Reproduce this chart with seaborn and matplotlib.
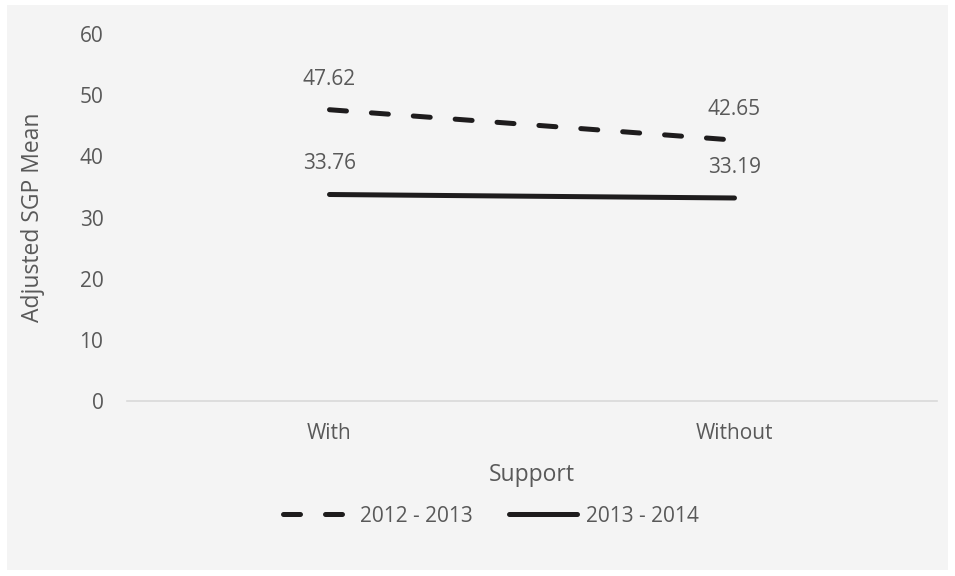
import matplotlib
matplotlib.use("Agg")
import matplotlib.pyplot as plt
import matplotlib.patches as mpatches
import pandas as pd
import seaborn as sns

# Data
supports = ["With", "Without"]
years = ["2012 - 2013", "2013 - 2014"]
mean_2012_2013 = [47.62, 42.65]
mean_2013_2014 = [33.76, 33.19]
y_ticks = [0, 10, 20, 30, 40, 50, 60]

df = pd.DataFrame({
    "Support": supports * 2,
    "Mean": mean_2012_2013 + mean_2013_2014,
    "Year": [years[0]] * 2 + [years[1]] * 2,
})

sns.set_theme(style="white")
plt.rcParams["font.family"] = ["Open Sans", "DejaVu Sans"]

TXT = "#595959"
LINE = "#1e1c1d"

fig = plt.figure(figsize=(9.55, 5.76), dpi=100, facecolor="white")
# panel background, kept behind the axes
fig.patches.append(mpatches.Rectangle((7 / 955, 6 / 576), 941 / 955, 565 / 576,
                                      transform=fig.transFigure, facecolor="#f4f4f4",
                                      edgecolor="none", zorder=-10))

ax = fig.add_axes([127 / 955, (576 - 401) / 576, 810 / 955, 367 / 576])
ax.set_facecolor("none")

sns.lineplot(data=df, x="Support", y="Mean", hue="Year", style="Year",
             palette={years[0]: LINE, years[1]: LINE},
             dashes={years[0]: (3.4, 5.0), years[1]: ""},
             linewidth=3.6, dash_capstyle="round", solid_capstyle="round",
             ax=ax, legend=True)

ax.set_xlim(-0.5, 1.5)
ax.set_ylim(0, 60)
ax.set_yticks(y_ticks)
ax.set_yticklabels([str(t) for t in y_ticks])

for vals in (mean_2012_2013, mean_2013_2014):
    for i, v in enumerate(vals):
        ax.annotate(f"{v:.2f}", (i, v), xytext=(0, 22), textcoords="offset points",
                    ha="center", va="center", fontsize=15, color=TXT)

for s in ("top", "right", "left"):
    ax.spines[s].set_visible(False)
ax.spines["bottom"].set_color("#d9d9d9")
ax.spines["bottom"].set_linewidth(1.2)
ax.grid(False)
ax.tick_params(axis="both", length=0, labelsize=15, labelcolor=TXT)
ax.tick_params(axis="y", pad=17)
ax.tick_params(axis="x", pad=16)

ax.set_xlabel("Support", fontsize=16.5, color=TXT)
ax.set_ylabel("Adjusted SGP Mean", fontsize=16.5, color=TXT)
ax.xaxis.set_label_coords(0.5, -0.168)
ax.yaxis.set_label_coords(-0.101, 0.5)

handles, labels = ax.get_legend_handles_labels()
ax.legend(handles, labels, loc="center", bbox_to_anchor=(491 / 955, (576 - 516) / 576),
          bbox_transform=fig.transFigure, ncol=2, frameon=False, fontsize=15,
          labelcolor=TXT, handlelength=3.3, handletextpad=0.4, columnspacing=1.7)

fig.savefig("out.png", dpi=100, facecolor="white")
